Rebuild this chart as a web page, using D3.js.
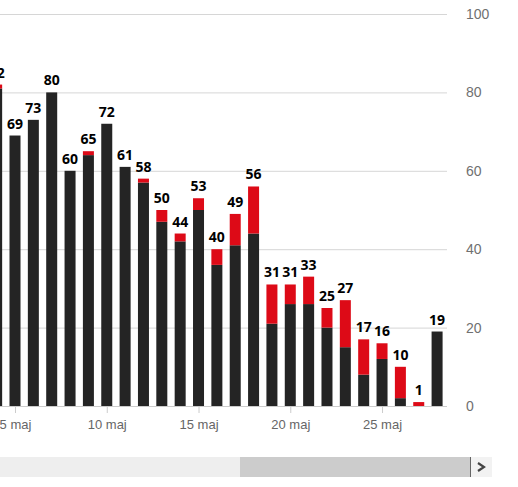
<!DOCTYPE html>
<html>
<head>
<meta charset="utf-8">
<script src="https://cdn.jsdelivr.net/npm/d3@7"></script>
<style>
  body { margin: 0; background: #fff; }
  svg { display: block; font-family: "Open Sans", sans-serif; }
</style>
</head>
<body>
<div id="chart"></div>
<script>
// Data: days in May, stacked black + red parts
const DAYS = [4,5,6,7,8,9,10,11,12,13,14,15,16,17,18,19,20,21,22,23,24,25,26,27,28]
const BLACK = [81,69,73,80,60,64,72,61,57,47,42,50,36,41,44,21,26,26,20,15,8,12,2,0,19]
const RED   = [1,0,0,0,0,1,0,0,1,3,2,3,4,8,12,10,5,7,5,12,9,4,8,1,0]
const Y_TICKS = [0,20,40,60,80,100]
const X_TICKS = [5,10,15,20,25]

const W = 518, H = 487
const PLOT_W = 447, TOP = 14, BOTTOM = 406

var svg = d3.select('#chart').append('svg')
    .attr('width', W)
    .attr('height', H)

var x = d3.scaleLinear().domain([4.1826, 28.54]).range([0, PLOT_W])
var y = d3.scaleLinear().domain([0, 100]).range([BOTTOM, TOP])
const BAR_W = 11

// gridlines + right labels
var yAxis = svg.append('g')
    .call(d3.axisRight(y).tickValues(Y_TICKS).tickSize(PLOT_W).tickPadding(19))
yAxis.select('.domain').remove()
yAxis.selectAll('line').attr('stroke', '#d6d6d6')
yAxis.selectAll('text')
    .attr('fill', '#707070')
    .style('font-size', '14px')

// x axis
var xAxis = svg.append('g')
    .attr('transform', 'translate(0,' + BOTTOM + ')')
    .call(d3.axisBottom(x).tickValues(X_TICKS).tickSize(7).tickPadding(7)
        .tickFormat(d => d + ' maj'))
xAxis.select('.domain').attr('stroke', '#cccccc').attr('d', 'M0,0.5H' + PLOT_W)
xAxis.selectAll('line').attr('stroke', '#cccccc')
xAxis.selectAll('text')
    .attr('fill', '#666')
    .style('font-size', '13px')

var rows = DAYS.map((d, i) => ({ day: d, black: BLACK[i], red: RED[i], total: BLACK[i] + RED[i] }))

var bars = svg.append('g')
var g = bars.selectAll('g').data(rows).enter().append('g')

g.append('rect')
    .attr('x', d => x(d.day) - BAR_W / 2)
    .attr('width', BAR_W)
    .attr('y', d => y(d.black))
    .attr('height', d => y(0) - y(d.black))
    .attr('fill', '#242424')

g.append('rect')
    .attr('x', d => x(d.day) - BAR_W / 2)
    .attr('width', BAR_W)
    .attr('y', d => y(d.total))
    .attr('height', d => y(d.black) - y(d.total))
    .attr('fill', '#dd0a17')

g.append('text')
    .attr('x', d => x(d.day))
    .attr('y', d => y(d.total) - 7)
    .attr('text-anchor', 'middle')
    .attr('fill', '#000')
    .style('font-size', '14px')
    .style('font-weight', 700)
    .text(d => d.total)

// scrollbar
var sb = svg.append('g').attr('transform', 'translate(0,457)')
sb.append('rect').attr('x', 0).attr('y', 0).attr('width', 470).attr('height', 20).attr('fill', '#eeeeee')
sb.append('rect').attr('x', 240).attr('y', 0).attr('width', 230).attr('height', 20).attr('fill', '#cccccc')
sb.append('rect').attr('x', 470).attr('y', 0).attr('width', 22).attr('height', 20).attr('fill', '#f2f2f2')
sb.append('line').attr('x1', 470.5).attr('x2', 470.5).attr('y1', 0).attr('y2', 20).attr('stroke', '#666')
sb.append('path').attr('d', 'M478,6 L484,10 L478,14')
    .attr('fill', 'none').attr('stroke', '#444').attr('stroke-width', 2.2)
</script>
</body>
</html>
